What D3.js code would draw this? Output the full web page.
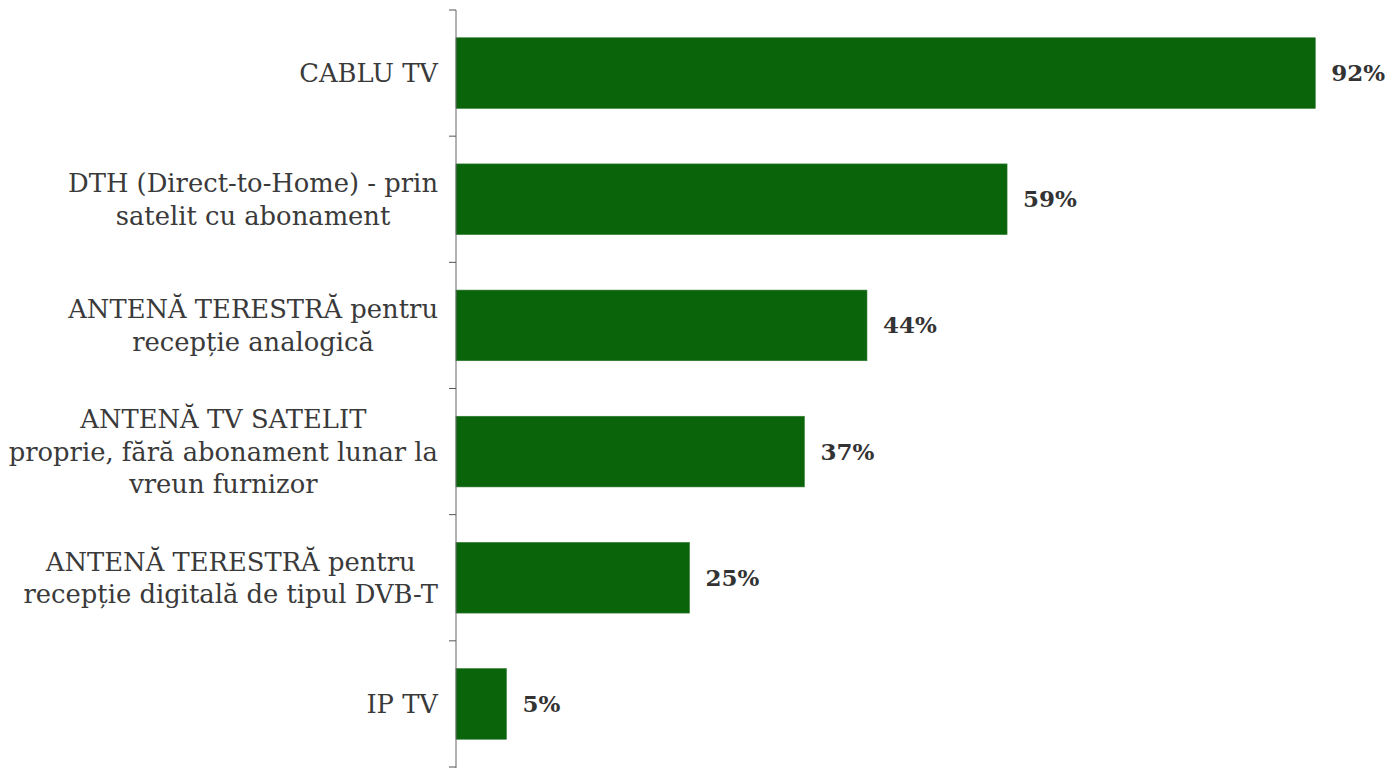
<!DOCTYPE html>
<html><head><meta charset="utf-8">
<script src="https://cdn.jsdelivr.net/npm/d3@7"></script>
<style>body{margin:0;background:#fff}svg{display:block}</style>
</head><body>
<svg id="c" width="1390" height="768"></svg>
<script>
const categories = [
  ["CABLU TV"],
  ["DTH (Direct-to-Home) - prin", "satelit cu abonament"],
  ["ANTENĂ TERESTRĂ pentru", "recepție analogică"],
  ["ANTENĂ TV SATELIT", "proprie, fără abonament lunar la", "vreun furnizor"],
  ["ANTENĂ TERESTRĂ pentru", "recepție digitală de tipul DVB-T"],
  ["IP TV"]
];
const values = [92, 59, 44, 37.3, 25, 5.4];
const valueLabels = ["92%", "59%", "44%", "37%", "25%", "5%"];

const FONT = "'DejaVu Serif', serif";
const svg = d3.select("#c");
const keys = categories.map((d, i) => i);
const x = d3.scaleLinear().domain([0, 100]).range([456, 1390]);
const y = d3.scaleBand().domain(keys).range([10, 767]).paddingInner(0.44).paddingOuter(0.22);

// bars
svg.selectAll("rect.bar").data(values).enter().append("rect")
  .attr("x", x(0)).attr("y", (d, i) => y(i))
  .attr("width", d => x(d) - x(0)).attr("height", y.bandwidth())
  .attr("fill", "#0a650a").attr("stroke", "#2f7a2f").attr("stroke-width", 0.6);

// axis
svg.append("line").attr("x1", 456).attr("x2", 456).attr("y1", 10).attr("y2", 768)
  .attr("stroke", "#666").attr("stroke-width", 1);
const tickYs = d3.range(categories.length + 1).map(i => 10 + i * (757 / categories.length));
svg.selectAll("line.tick").data(tickYs).enter().append("line")
  .attr("x1", 449).attr("x2", 456).attr("y1", d => d).attr("y2", d => d)
  .attr("stroke", "#555").attr("stroke-width", 1);

// category labels
const fontSize = 25.8, lh = 32.5;
categories.forEach((lines, i) => {
  const tmp = svg.append("text").attr("font-family", FONT).attr("font-size", fontSize);
  let maxW = 0;
  lines.forEach(l => { tmp.text(l); maxW = Math.max(maxW, tmp.node().getComputedTextLength()); });
  tmp.remove();
  const g = svg.append("text")
    .attr("font-family", FONT).attr("font-size", fontSize).attr("fill", "#3a3a3a")
    .attr("text-anchor", "middle");
  const cx = 438 - maxW / 2;
  const cy = y(i) + y.bandwidth() / 2;
  const y0 = cy - (lines.length - 1) * lh / 2;
  lines.forEach((l, j) => {
    g.append("tspan").attr("x", cx).attr("y", y0 + j * lh).attr("dy", "0.35em").text(l);
  });
});

// value labels
svg.selectAll("text.val").data(values).enter().append("text")
  .attr("x", d => x(d) + 16).attr("y", (d, i) => y(i) + y.bandwidth() / 2)
  .attr("dy", "0.35em")
  .attr("font-family", FONT).attr("font-weight", "bold")
  .attr("font-size", 23).attr("fill", "#333")
  .text((d, i) => valueLabels[i]);
</script>
</body></html>
